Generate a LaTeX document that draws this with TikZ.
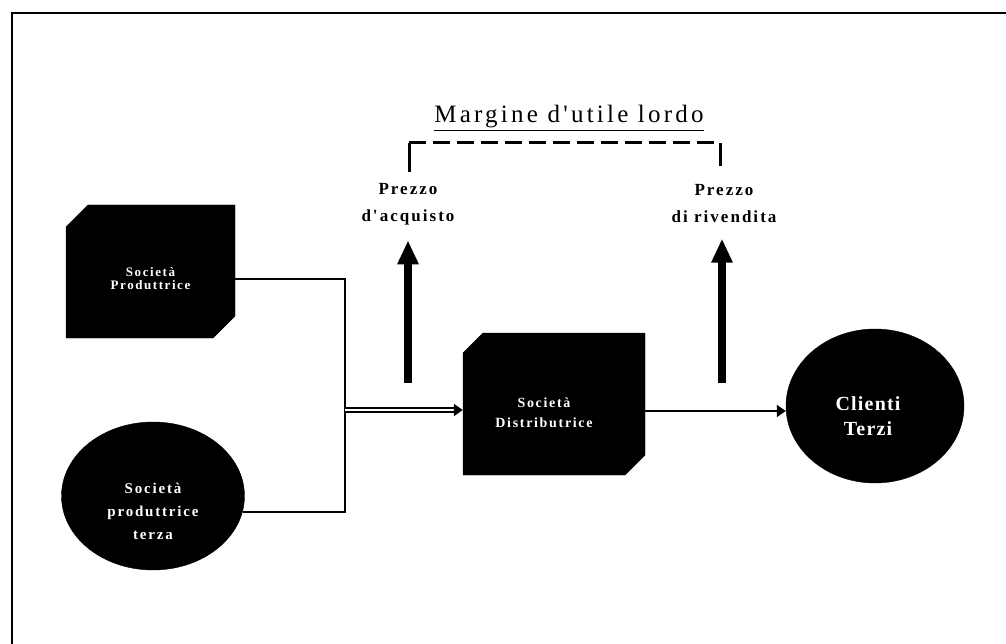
\documentclass[tikz,border=0pt]{standalone}
\usepackage{fontspec}
\setmainfont{Liberation Serif}
\newfontfamily\spacedA[LetterSpace=12]{Liberation Serif}
\newfontfamily\spacedB[LetterSpace=6]{Liberation Serif}
\newfontfamily\spacedC[LetterSpace=13]{Liberation Serif}
\usetikzlibrary{shapes.misc,shapes.geometric,arrows.meta,calc}
\newcommand{\shiftedtext}[3]{\hspace*{#1}\raisebox{#2}[\height][\depth]{\begin{tabular}{@{}c@{}}#3\end{tabular}}\hspace*{-#1}}
\begin{document}
\begin{tikzpicture}[x=1pt,y=-1pt,
  chambox/.style={chamfered rectangle, chamfered rectangle corners={north west,south east},
    chamfered rectangle xsep=11pt, chamfered rectangle ysep=11pt,
    fill=black, draw=black, inner sep=0pt, text=white},
  blob/.style={ellipse, fill=black, draw=black, inner sep=0pt},
  intext/.style={text=white, align=center},
  conn/.style={line width=1.8pt},
  pricelab/.style={align=center, font=\spacedA\bfseries\fontsize{17}{27}\selectfont},
  bigarrow/.style={line width=8pt, -{Triangle[length=24pt,width=20pt]}},
  bracket/.style={line width=3pt},
  tip/.style={-{Triangle[length=9pt,width=12pt]}}
]
\useasboundingbox (0,0) rectangle (1006,644);
% frame
\draw[line width=2.2pt] (12,644) -- (12,13) -- (1006,13);

% nodes
\node[chambox, minimum width=169pt, minimum height=133pt,
  font=\spacedA\bfseries\fontsize{13}{13}\selectfont] (prod) at (150.5,271.5)
  {\shiftedtext{0pt}{-9pt}{Società\\Produttrice}};
\node[blob, minimum width=183pt, minimum height=148pt,
  label={[intext, yshift=-15pt, font=\spacedA\bfseries\fontsize{15}{23}\selectfont]center:Società\\produttrice\\terza}] (terza) at (153,496) {};
\node[chambox, minimum width=182pt, minimum height=142pt,
  chamfered rectangle xsep=10pt, chamfered rectangle ysep=10pt,
  font=\spacedA\bfseries\fontsize{14}{20}\selectfont] (dist) at (554,404)
  {\shiftedtext{-10pt}{-9pt}{Società\\Distributrice}};
\node[blob, minimum width=178pt, minimum height=154pt,
  label={[intext, yshift=-10pt, xshift=-7pt, font=\spacedB\bfseries\fontsize{20}{25}\selectfont]center:Clienti\\Terzi}] (cli) at (875,406) {};

% labels
\node[pricelab] (acq) at (408,204) {Prezzo\\d'acquisto};
\node[pricelab] (riv) at (724,204) {Prezzo\\di rivendita};
\node[font=\spacedC\fontsize{25}{25}\selectfont] (marg) at (569,118) {\underline{Margine d'utile lordo}};

% connectors
\coordinate (j) at (345,410);
\draw[conn] (prod.-5) -| (j);
\draw[conn] (terza.-10) -| (j);
\draw[line width=2pt, double, double distance=2pt, tip] (j) -- (j -| dist.west);
\draw[conn, tip] ([yshift=-7pt]dist.east) -- ([yshift=-7pt]dist.east -| cli.west);

% thick arrows
\coordinate (a1) at (408,383);
\coordinate (a2) at (722,383);
\draw[bigarrow] (a1) -- ([yshift=-12pt]acq.south);
\draw[bigarrow] (a2) -- ([yshift=-12pt]riv.south -| a2);

% bracket
\coordinate (b1) at (409,172);
\coordinate (b2) at (409,143);
\coordinate (b3) at (720,143);
\coordinate (b4) at (720,166);
\draw[bracket] (b1) -- (b2);
\draw[bracket] (b3) -- (b4);
\draw[bracket, dash pattern=on 17pt off 7pt] (b2) -- (b3);
\end{tikzpicture}
\end{document}
